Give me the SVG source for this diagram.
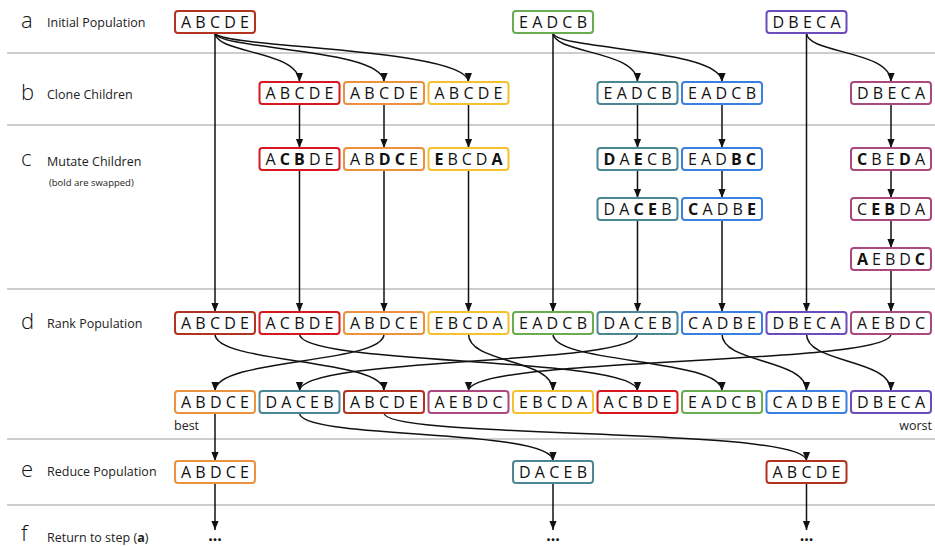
<svg xmlns="http://www.w3.org/2000/svg" width="935" height="546" viewBox="0 0 935 546">
  <style>
    .sep { stroke: #bdbdbd; stroke-width: 1.5; }
    .step { font-family: "Open Sans", "Noto Sans", sans-serif; font-size: 22px; font-weight: 300; fill: #111; }
    .lbl { font-family: "Open Sans", "Noto Sans", sans-serif; font-size: 12.5px; fill: #222; }
    .small { font-family: "Open Sans", "Noto Sans", sans-serif; font-size: 9.5px; fill: #222; }
    .box { fill: #fff; stroke-width: 2; }
    .seq { font-family: "Open Sans", "Noto Sans", sans-serif; font-size: 16px; fill: #111; }
    .seq tspan.b { font-weight: 700; }
    .dots { font-family: "Open Sans", "Noto Sans", sans-serif; font-size: 16px; font-weight: 700; fill: #111; text-anchor: middle; }
    .c-dred { stroke: #b23320; }
    .c-red { stroke: #d8181f; }
    .c-orange { stroke: #ec923f; }
    .c-yellow { stroke: #f4c22f; }
    .c-green { stroke: #6aab4f; }
    .c-teal { stroke: #4a8694; }
    .c-blue { stroke: #3a7fe2; }
    .c-purple { stroke: #6a4cbd; }
    .c-pink { stroke: #a9497d; }
    #connectors path, #connectors line { fill: none; stroke: #111; stroke-width: 1.5; marker-end: url(#arrow); }
  </style>
  <defs>
    <marker id="arrow" viewBox="0 0 10 10" refX="10" refY="5" markerWidth="9" markerHeight="9" markerUnits="userSpaceOnUse" orient="auto">
      <path d="M0,1 L10,5 L0,9 Z" fill="#111"/>
    </marker>
  </defs>

  <!-- row separators -->
  <g id="separators">
    <line class="sep" x1="7" y1="53" x2="935" y2="53"/>
    <line class="sep" x1="7" y1="125" x2="935" y2="125"/>
    <line class="sep" x1="7" y1="289" x2="935" y2="289"/>
    <line class="sep" x1="7" y1="439" x2="935" y2="439"/>
    <line class="sep" x1="7" y1="505" x2="935" y2="505"/>
  </g>

  <!-- step labels -->
  <g id="labels">
    <text class="step" x="21" y="28">a</text>
    <text class="lbl" x="47" y="27">Initial Population</text>
    <text class="step" x="21" y="100">b</text>
    <text class="lbl" x="47" y="99">Clone Children</text>
    <text class="step" x="21" y="166">c</text>
    <text class="lbl" x="47" y="166">Mutate Children</text>
    <text class="small" x="49" y="186">(bold are swapped)</text>
    <text class="step" x="21" y="329">d</text>
    <text class="lbl" x="47" y="328">Rank Population</text>
    <text class="lbl" x="174" y="430">best</text>
    <text class="lbl" x="932" y="430" text-anchor="end">worst</text>
    <text class="step" x="21" y="477">e</text>
    <text class="lbl" x="47" y="476">Reduce Population</text>
    <text class="step" x="21" y="541">f</text>
    <text class="lbl" x="47" y="542">Return to step (<tspan font-weight="700">a</tspan>)</text>
  </g>

  <!-- connectors -->
  <g id="connectors">
    <!-- a: initial to clones / straight to ranking -->
    <line x1="215" y1="33" x2="215" y2="312"/>
    <path d="M215,33 C216,54 299,50 299.5,82"/>
    <path d="M215,33 C217,50 384,48 384,82"/>
    <path d="M215,33 C218,48 468,48 468.5,82"/>
    <line x1="553" y1="33" x2="553" y2="312"/>
    <path d="M553,33 C554,54 637,50 637.5,82"/>
    <path d="M553,33 C555,50 722,48 722,82"/>
    <line x1="806.5" y1="33" x2="806.5" y2="312"/>
    <path d="M806.5,33 C807,54 891,50 891,82"/>
    <!-- b to c -->
    <line x1="299.5" y1="104" x2="299.5" y2="148"/>
    <line x1="384" y1="104" x2="384" y2="148"/>
    <line x1="468.5" y1="104" x2="468.5" y2="148"/>
    <line x1="637.5" y1="104" x2="637.5" y2="148"/>
    <line x1="722" y1="104" x2="722" y2="148"/>
    <line x1="891" y1="104" x2="891" y2="148"/>
    <line x1="637.5" y1="170" x2="637.5" y2="198"/>
    <line x1="722" y1="170" x2="722" y2="198"/>
    <line x1="891" y1="170" x2="891" y2="198"/>
    <line x1="891" y1="220" x2="891" y2="248"/>
    <!-- c to d -->
    <line x1="299.5" y1="170" x2="299.5" y2="312"/>
    <line x1="384" y1="170" x2="384" y2="312"/>
    <line x1="468.5" y1="170" x2="468.5" y2="312"/>
    <line x1="637.5" y1="220" x2="637.5" y2="312"/>
    <line x1="722" y1="220" x2="722" y2="312"/>
    <line x1="891" y1="270" x2="891" y2="312"/>
    <!-- d: ranking reorder -->
    <path d="M215,334 C215,364 384,358 384,391"/>
    <path d="M299.5,334 C299.5,366 637.5,356 637.5,391"/>
    <path d="M384,334 C384,364 215,358 215,391"/>
    <path d="M468.5,334 C468.5,364 553,358 553,391"/>
    <path d="M553,334 C553,364 722,358 722,391"/>
    <path d="M637.5,334 C637.5,366 299.5,356 299.5,391"/>
    <path d="M722,334 C722,364 806.5,358 806.5,391"/>
    <path d="M806.5,334 C806.5,364 891,358 891,391"/>
    <path d="M891,334 C891,366 468.5,356 468.5,391"/>
    <!-- sorted to reduced -->
    <line x1="215" y1="413" x2="215" y2="461"/>
    <path d="M299.5,413 C299.5,440 553,428 553,461"/>
    <path d="M384,413 C384,440 806.5,426 806.5,461"/>
    <!-- e to f -->
    <line x1="215" y1="483" x2="215" y2="530"/>
    <line x1="553" y1="483" x2="553" y2="530"/>
    <line x1="806.5" y1="483" x2="806.5" y2="530"/>
  </g>
  <g id="continue">
    <text class="dots" x="215" y="541">...</text>
    <text class="dots" x="553" y="541">...</text>
    <text class="dots" x="806.5" y="541">...</text>
  </g>

  <!-- a: initial population -->
  <g id="a1"><rect class="box c-dred" x="175" y="11" width="80" height="22" rx="3"/><text class="seq" x="181" y="27.8" textLength="68" lengthAdjust="spacing">A B C D E</text></g>
  <g id="a2"><rect class="box c-green" x="513" y="11" width="80" height="22" rx="3"/><text class="seq" x="519" y="27.8" textLength="68" lengthAdjust="spacing">E A D C B</text></g>
  <g id="a3"><rect class="box c-purple" x="766.5" y="11" width="80" height="22" rx="3"/><text class="seq" x="772.5" y="27.8" textLength="68" lengthAdjust="spacing">D B E C A</text></g>

  <!-- b: clones -->
  <g id="b1"><rect class="box c-red" x="259.5" y="82" width="80" height="22" rx="3"/><text class="seq" x="265.5" y="98.8" textLength="68" lengthAdjust="spacing">A B C D E</text></g>
  <g id="b2"><rect class="box c-orange" x="344" y="82" width="80" height="22" rx="3"/><text class="seq" x="350" y="98.8" textLength="68" lengthAdjust="spacing">A B C D E</text></g>
  <g id="b3"><rect class="box c-yellow" x="428.5" y="82" width="80" height="22" rx="3"/><text class="seq" x="434.5" y="98.8" textLength="68" lengthAdjust="spacing">A B C D E</text></g>
  <g id="b4"><rect class="box c-teal" x="597.5" y="82" width="80" height="22" rx="3"/><text class="seq" x="603.5" y="98.8" textLength="68" lengthAdjust="spacing">E A D C B</text></g>
  <g id="b5"><rect class="box c-blue" x="682" y="82" width="80" height="22" rx="3"/><text class="seq" x="688" y="98.8" textLength="68" lengthAdjust="spacing">E A D C B</text></g>
  <g id="b6"><rect class="box c-pink" x="851" y="82" width="80" height="22" rx="3"/><text class="seq" x="857" y="98.8" textLength="68" lengthAdjust="spacing">D B E C A</text></g>

  <!-- c: mutations -->
  <g id="c1"><rect class="box c-red" x="259.5" y="148" width="80" height="22" rx="3"/><text class="seq" x="265.5" y="164.8" textLength="68" lengthAdjust="spacing">A <tspan class="b">C B</tspan> D E</text></g>
  <g id="c2"><rect class="box c-orange" x="344" y="148" width="80" height="22" rx="3"/><text class="seq" x="350" y="164.8" textLength="68" lengthAdjust="spacing">A B <tspan class="b">D C</tspan> E</text></g>
  <g id="c3"><rect class="box c-yellow" x="428.5" y="148" width="80" height="22" rx="3"/><text class="seq" x="434.5" y="164.8" textLength="68" lengthAdjust="spacing"><tspan class="b">E</tspan> B C D <tspan class="b">A</tspan></text></g>
  <g id="c4"><rect class="box c-teal" x="597.5" y="148" width="80" height="22" rx="3"/><text class="seq" x="603.5" y="164.8" textLength="68" lengthAdjust="spacing"><tspan class="b">D</tspan> A <tspan class="b">E</tspan> C B</text></g>
  <g id="c5"><rect class="box c-blue" x="682" y="148" width="80" height="22" rx="3"/><text class="seq" x="688" y="164.8" textLength="68" lengthAdjust="spacing">E A D <tspan class="b">B C</tspan></text></g>
  <g id="c6"><rect class="box c-pink" x="851" y="148" width="80" height="22" rx="3"/><text class="seq" x="857" y="164.8" textLength="68" lengthAdjust="spacing"><tspan class="b">C</tspan> B E <tspan class="b">D</tspan> A</text></g>
  <g id="c7"><rect class="box c-teal" x="597.5" y="198" width="80" height="22" rx="3"/><text class="seq" x="603.5" y="214.8" textLength="68" lengthAdjust="spacing">D A <tspan class="b">C E</tspan> B</text></g>
  <g id="c8"><rect class="box c-blue" x="682" y="198" width="80" height="22" rx="3"/><text class="seq" x="688" y="214.8" textLength="68" lengthAdjust="spacing"><tspan class="b">C</tspan> A D B <tspan class="b">E</tspan></text></g>
  <g id="c9"><rect class="box c-pink" x="851" y="198" width="80" height="22" rx="3"/><text class="seq" x="857" y="214.8" textLength="68" lengthAdjust="spacing">C <tspan class="b">E B</tspan> D A</text></g>
  <g id="c10"><rect class="box c-pink" x="851" y="248" width="80" height="22" rx="3"/><text class="seq" x="857" y="264.8" textLength="68" lengthAdjust="spacing"><tspan class="b">A</tspan> E B D <tspan class="b">C</tspan></text></g>

  <!-- d: full population before ranking -->
  <g id="d1"><rect class="box c-dred" x="175" y="312" width="80" height="22" rx="3"/><text class="seq" x="181" y="328.8" textLength="68" lengthAdjust="spacing">A B C D E</text></g>
  <g id="d2"><rect class="box c-red" x="259.5" y="312" width="80" height="22" rx="3"/><text class="seq" x="265.5" y="328.8" textLength="68" lengthAdjust="spacing">A C B D E</text></g>
  <g id="d3"><rect class="box c-orange" x="344" y="312" width="80" height="22" rx="3"/><text class="seq" x="350" y="328.8" textLength="68" lengthAdjust="spacing">A B D C E</text></g>
  <g id="d4"><rect class="box c-yellow" x="428.5" y="312" width="80" height="22" rx="3"/><text class="seq" x="434.5" y="328.8" textLength="68" lengthAdjust="spacing">E B C D A</text></g>
  <g id="d5"><rect class="box c-green" x="513" y="312" width="80" height="22" rx="3"/><text class="seq" x="519" y="328.8" textLength="68" lengthAdjust="spacing">E A D C B</text></g>
  <g id="d6"><rect class="box c-teal" x="597.5" y="312" width="80" height="22" rx="3"/><text class="seq" x="603.5" y="328.8" textLength="68" lengthAdjust="spacing">D A C E B</text></g>
  <g id="d7"><rect class="box c-blue" x="682" y="312" width="80" height="22" rx="3"/><text class="seq" x="688" y="328.8" textLength="68" lengthAdjust="spacing">C A D B E</text></g>
  <g id="d8"><rect class="box c-purple" x="766.5" y="312" width="80" height="22" rx="3"/><text class="seq" x="772.5" y="328.8" textLength="68" lengthAdjust="spacing">D B E C A</text></g>
  <g id="d9"><rect class="box c-pink" x="851" y="312" width="80" height="22" rx="3"/><text class="seq" x="857" y="328.8" textLength="68" lengthAdjust="spacing">A E B D C</text></g>

  <!-- d: ranked population -->
  <g id="s1"><rect class="box c-orange" x="175" y="391" width="80" height="22" rx="3"/><text class="seq" x="181" y="407.8" textLength="68" lengthAdjust="spacing">A B D C E</text></g>
  <g id="s2"><rect class="box c-teal" x="259.5" y="391" width="80" height="22" rx="3"/><text class="seq" x="265.5" y="407.8" textLength="68" lengthAdjust="spacing">D A C E B</text></g>
  <g id="s3"><rect class="box c-dred" x="344" y="391" width="80" height="22" rx="3"/><text class="seq" x="350" y="407.8" textLength="68" lengthAdjust="spacing">A B C D E</text></g>
  <g id="s4"><rect class="box c-pink" x="428.5" y="391" width="80" height="22" rx="3"/><text class="seq" x="434.5" y="407.8" textLength="68" lengthAdjust="spacing">A E B D C</text></g>
  <g id="s5"><rect class="box c-yellow" x="513" y="391" width="80" height="22" rx="3"/><text class="seq" x="519" y="407.8" textLength="68" lengthAdjust="spacing">E B C D A</text></g>
  <g id="s6"><rect class="box c-red" x="597.5" y="391" width="80" height="22" rx="3"/><text class="seq" x="603.5" y="407.8" textLength="68" lengthAdjust="spacing">A C B D E</text></g>
  <g id="s7"><rect class="box c-green" x="682" y="391" width="80" height="22" rx="3"/><text class="seq" x="688" y="407.8" textLength="68" lengthAdjust="spacing">E A D C B</text></g>
  <g id="s8"><rect class="box c-blue" x="766.5" y="391" width="80" height="22" rx="3"/><text class="seq" x="772.5" y="407.8" textLength="68" lengthAdjust="spacing">C A D B E</text></g>
  <g id="s9"><rect class="box c-purple" x="851" y="391" width="80" height="22" rx="3"/><text class="seq" x="857" y="407.8" textLength="68" lengthAdjust="spacing">D B E C A</text></g>

  <!-- e: reduced population -->
  <g id="e1"><rect class="box c-orange" x="175" y="461" width="80" height="22" rx="3"/><text class="seq" x="181" y="477.8" textLength="68" lengthAdjust="spacing">A B D C E</text></g>
  <g id="e2"><rect class="box c-teal" x="513" y="461" width="80" height="22" rx="3"/><text class="seq" x="519" y="477.8" textLength="68" lengthAdjust="spacing">D A C E B</text></g>
  <g id="e3"><rect class="box c-dred" x="766.5" y="461" width="80" height="22" rx="3"/><text class="seq" x="772.5" y="477.8" textLength="68" lengthAdjust="spacing">A B C D E</text></g>
</svg>
